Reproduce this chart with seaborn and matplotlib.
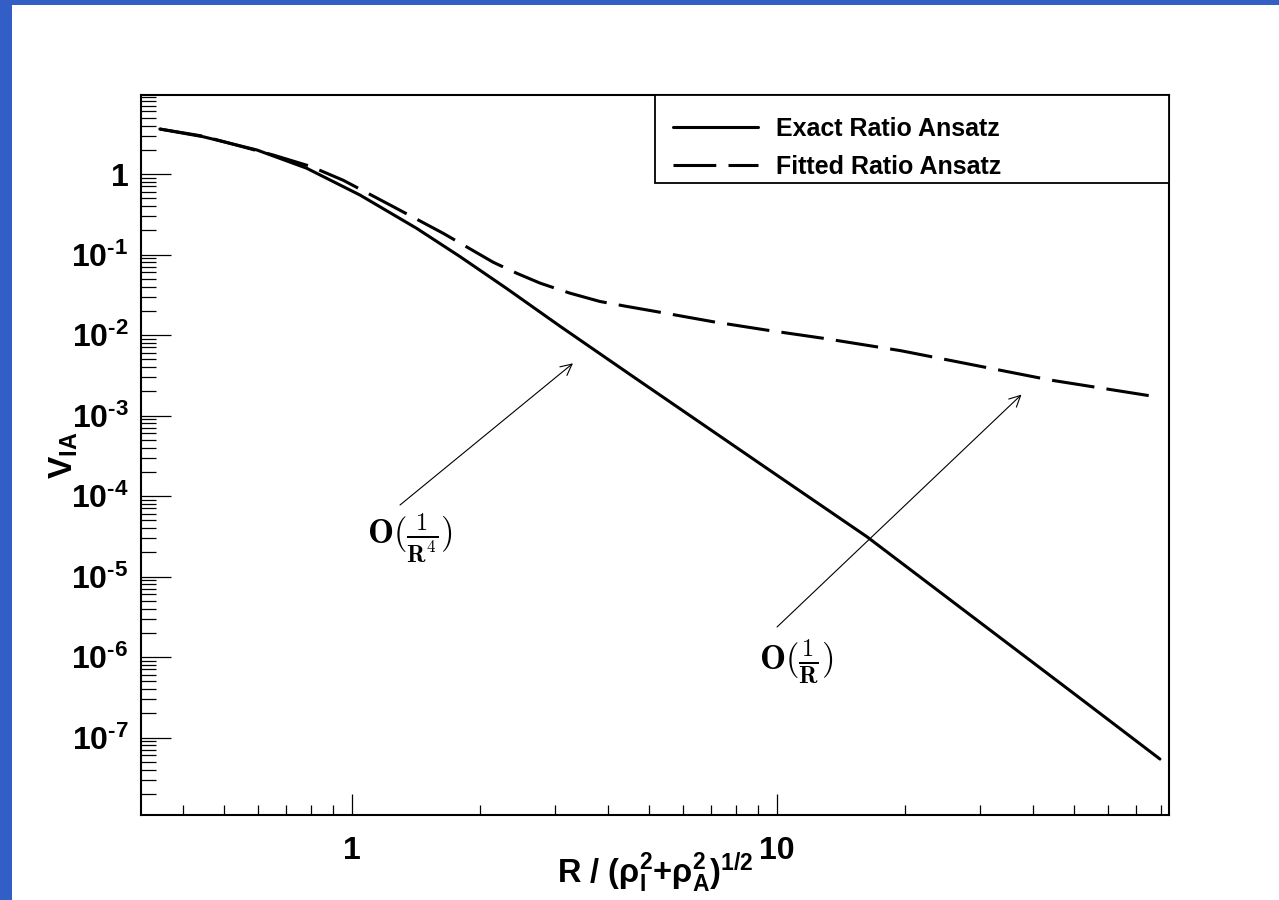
import numpy as np
import pandas as pd
import matplotlib
matplotlib.use("Agg")
import matplotlib.pyplot as plt
import seaborn as sns
from matplotlib.patches import Rectangle
from matplotlib.lines import Line2D
from matplotlib.ticker import FixedLocator, NullFormatter

# ---------------- data ----------------
exact_r = [0.353, 0.447, 0.597, 0.782, 1.044, 1.42, 1.795, 2.31, 3.09, 4.59, 9.46, 16.3, 30.0, 50.0, 79.6]
exact_v = [3.62, 2.90, 1.99, 1.18, 0.548, 0.211, 0.0942, 0.0379, 0.0128, 3.03e-3, 2.21e-4, 3.1e-5, 2.7e-6, 3.5e-7, 5.4e-8]

fitted_r = [0.353, 0.447, 0.653, 0.80, 0.954, 1.25, 1.64, 2.15, 2.45, 2.77, 3.25, 3.83, 4.4, 5.21, 7.08, 9.46, 12.85, 19.5, 43.9, 79.6]
fitted_v = [3.62, 2.95, 1.72, 1.24, 0.835, 0.393, 0.183, 0.080, 0.058, 0.0441, 0.0332, 0.0261, 0.0228, 0.0195, 0.0146, 0.0115, 9.1e-3, 6.4e-3, 2.76e-3, 1.68e-3]

series_names = ["Exact Ratio Ansatz", "Fitted Ratio Ansatz"]

x_major = [1, 10]
x_major_labels = ["1", "10"]
y_major = [1, 1e-1, 1e-2, 1e-3, 1e-4, 1e-5, 1e-6, 1e-7]
y_major_labels = ["1"] + [r"$10^{\text{-}%d}$" % k for k in range(1, 8)]

# ---------------- style ----------------
sns.set_theme(style="ticks")
plt.rcParams.update({
    "font.family": ["Liberation Sans", "DejaVu Sans"],
    "font.weight": "bold",
    "text.color": "black",
    "axes.labelcolor": "black",
    "xtick.color": "black",
    "ytick.color": "black",
    "mathtext.fontset": "custom",
    "mathtext.rm": "Liberation Sans:bold",
    "mathtext.it": "Liberation Sans:bold",
    "mathtext.bf": "Liberation Sans:bold",
    "mathtext.sf": "Liberation Sans:bold",
    "mathtext.default": "rm",
})

W, H = 1279, 900
fig = plt.figure(figsize=(W / 100, H / 100), dpi=100)
fig.patch.set_facecolor("white")
blue = "#335ec6"
fig.patches.append(Rectangle((0, 0), 12 / W, 1, transform=fig.transFigure,
                             facecolor=blue, edgecolor="none", zorder=0))
fig.patches.append(Rectangle((0, 1 - 5 / H), 1, 5 / H, transform=fig.transFigure,
                             facecolor=blue, edgecolor="none", zorder=0))

L, R, T, B = 141, 1169, 95, 815
ax = fig.add_axes([L / W, 1 - B / H, (R - L) / W, (B - T) / H])
ax.set_facecolor("white")

df = pd.concat([
    pd.DataFrame({"R": exact_r, "V": exact_v, "Ansatz": series_names[0]}),
    pd.DataFrame({"R": fitted_r, "V": fitted_v, "Ansatz": series_names[1]}),
], ignore_index=True)

sns.lineplot(data=df, x="R", y="V", style="Ansatz",
             dashes={series_names[0]: "", series_names[1]: (14, 4)},
             color="black", linewidth=2.2, ax=ax, sort=False,
             estimator=None, legend=False)

ax.set_xscale("log")
ax.set_yscale("log")
ax.set_xlim(0.3188, 83.6)
ax.set_ylim(1.09e-8, 9.58)

# ticks
ax.xaxis.set_major_locator(FixedLocator(x_major))
ax.set_xticklabels(x_major_labels)
xminor = [k * 10.0 ** d for d in (-1, 0, 1) for k in range(2, 10)]
xminor = [v for v in xminor if 0.3188 < v < 83.6]
ax.xaxis.set_minor_locator(FixedLocator(xminor))
ax.xaxis.set_minor_formatter(NullFormatter())

ax.yaxis.set_major_locator(FixedLocator(y_major))
ax.set_yticklabels(y_major_labels)
yminor = [k * 10.0 ** d for d in range(-8, 1) for k in range(2, 10)]
yminor = [v for v in yminor if 1.09e-8 < v < 9.58]
ax.yaxis.set_minor_locator(FixedLocator(yminor))
ax.yaxis.set_minor_formatter(NullFormatter())

ax.tick_params(axis="x", which="major", direction="in", length=15, width=0.9,
               labelsize=23, pad=15, colors="black")
ax.tick_params(axis="x", which="minor", direction="in", length=7.5, width=0.9)
ax.tick_params(axis="y", which="major", direction="in", length=21.6, width=0.9,
               labelsize=23, pad=9, colors="black")
ax.tick_params(axis="y", which="minor", direction="in", length=10.8, width=0.9)
for s in ax.spines.values():
    s.set_linewidth(1.5)
    s.set_color("black")

# axis titles
ax.set_xlabel("")
ax.set_ylabel(r"$V_{IA}$", fontsize=24, color="black")
ax.yaxis.set_label_coords((80 - L) / (R - L), 0.5)
ax.text(0.5, (B - 883) / (B - T), r"R / $(\rho_I^2$+$\rho_A^2)^{1/2}$",
        transform=ax.transAxes, ha="center", va="baseline", fontsize=23.5,
        color="black")

# legend (frame drawn as a box sharing the top-right corner of the frame)
ax.add_patch(Rectangle((0.5, (B - 183) / (B - T)), 0.5, (183 - T) / (B - T),
                       transform=ax.transAxes, facecolor="white",
                       edgecolor="black", linewidth=1.3, zorder=4))
handles = [Line2D([], [], color="black", lw=2.2),
           Line2D([], [], color="black", lw=2.2, dashes=(14, 4))]
leg = ax.legend(handles, series_names, loc="upper left",
                bbox_to_anchor=((673 - L) / (R - L), (B - 117) / (B - T)),
                borderaxespad=0, frameon=False, fontsize=18,
                handlelength=3.4, handletextpad=0.72, labelspacing=0.55,
                borderpad=0, labelcolor="black")
leg.set_zorder(5)

# annotations
arrow_kw = dict(arrowstyle="->", color="black", lw=0.8, shrinkA=0, shrinkB=0,
                mutation_scale=20)
ax.annotate("", xy=(3.31, 4.45e-3), xytext=(1.297, 7.73e-5), arrowprops=arrow_kw)
ax.annotate("", xy=(37.6, 1.82e-3), xytext=(10.0, 2.36e-6), arrowprops=arrow_kw)
ax.text(1.37, 3.0e-5, r"$\mathbf{O}(\frac{\mathbf{1}}{\mathbf{R^4}})$",
        math_fontfamily="cm", fontsize=25, ha="center", va="center", color="black")
ax.text(11.1, 8.7e-7, r"$\mathbf{O}(\frac{\mathbf{1}}{\mathbf{R}})$",
        math_fontfamily="cm", fontsize=25, ha="center", va="center", color="black")

fig.savefig("out.png", dpi=100)
